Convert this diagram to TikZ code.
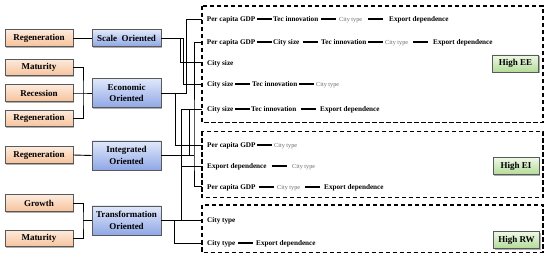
\documentclass[tikz,border=0pt]{standalone}
\usepackage{fontspec}
\setmainfont{Liberation Serif}
\usetikzlibrary{shadows,calc}
\definecolor{peachtop}{HTML}{FDEBDD}
\definecolor{peachbot}{HTML}{F7C29B}
\definecolor{bluetop}{HTML}{E0E8FA}
\definecolor{bluebot}{HTML}{8FA7E6}
\definecolor{greentop}{HTML}{EEF8E6}
\definecolor{greenbot}{HTML}{B3DB98}
\begin{document}
\begin{tikzpicture}[x=1pt,y=-1pt,
  conn/.style={draw=black,line width=0.9pt},
  dashseg/.style={draw=black,line width=2pt},
  dbox/.style={draw=black,line width=1.2pt,dash pattern=on 4.5pt off 2.5pt},
  shad/.style={drop shadow={shadow xshift=1.3pt,shadow yshift=-1.3pt,fill=black!45,opacity=0.7}},
  leftbox/.style={shad,draw=black!65,line width=0.6pt,top color=peachtop,bottom color=peachbot,
    minimum width=68pt,minimum height=16.5pt,inner sep=0pt,font=\fontsize{9}{11}\selectfont\bfseries},
  typebox/.style={shad,draw=black!65,line width=0.6pt,top color=bluetop,bottom color=bluebot,
    minimum width=69pt,inner sep=0pt,align=center,font=\fontsize{9}{11.5}\selectfont\bfseries},
  hibox/.style={shad,draw=black!65,line width=0.6pt,top color=greentop,bottom color=greenbot,
    minimum width=46pt,minimum height=17pt,inner sep=0pt,font=\fontsize{9}{11}\selectfont\bfseries},
  rt/.style={anchor=base west,inner sep=0pt,font=\fontsize{7.2}{8}\selectfont\bfseries},
  ct/.style={anchor=base west,inner sep=0pt,text=black!60,font=\fontsize{6.2}{7}\selectfont},
]
\useasboundingbox (0,0) rectangle (550,262);
\newcommand\dashbtw[2]{\draw[dashseg] ($(#1.base east)!0.5!(#2.base west)+(-7.5,-2.4)$) -- ($(#1.base east)!0.5!(#2.base west)+(7.5,-2.4)$);}

% dashed group frames
\draw[dbox] (202,6) rectangle (543,122.7);
\draw[dbox] (202,131.5) rectangle (543,197.7);
\draw[dbox] (202,205) rectangle (543,252.5);

% left boxes
\node[leftbox] (regA) at (39,38) {Regeneration};
\node[leftbox] (matA) at (39,67.5) {Maturity};
\node[leftbox] (rec) at (39,93) {Recession};
\node[leftbox] (regB) at (39,118.5) {Regeneration};
\node[leftbox] (regC) at (39,155) {Regeneration};
\node[leftbox] (gro) at (39,203) {Growth};
\node[leftbox] (matB) at (39,238.5) {Maturity};

% type boxes
\node[typebox,minimum height=16.5pt] (scale) at (126.5,38) {Scale~ Oriented};
\node[typebox,minimum height=29pt] (econ) at (126.5,93) {Economic\\Oriented};
\node[typebox,minimum height=29pt] (integ) at (126.5,155.5) {Integrated\\Oriented};
\node[typebox,minimum height=29pt] (trans) at (126.5,220.5) {Transformation\\Oriented};

% high boxes
\node[hibox] (hee) at (515.5,63.5) {High EE};
\node[hibox] (hei) at (516,166) {High EI};
\node[hibox] (hrw) at (516.5,240) {High RW};

% row entry coordinates
\coordinate (r1) at (202,19);
\coordinate (r2) at (202,42.3);
\coordinate (r3) at (202,62.7);
\coordinate (r4) at (202,84.5);
\coordinate (r5) at (202,109);
\coordinate (r6) at (202,145);
\coordinate (r7) at (202,166.3);
\coordinate (r8) at (202,186.7);
\coordinate (r9) at (202,220.5);
\coordinate (r10) at (202,243.3);

% row 1
\node[rt] (a1) at (206.7,21.4) {Per capita GDP};
\node[rt] (a2) at (273,21.4) {Tec innovation};
\node[ct] (a3) at (339,21.4) {City type};
\node[rt] (a4) at (389,21.4) {Export dependence};
\dashbtw{a1}{a2}\dashbtw{a2}{a3}\dashbtw{a3}{a4}
% row 2
\node[rt] (b1) at (206.7,44.7) {Per capita GDP};
\node[rt] (b2) at (273,44.7) {City size};
\node[rt] (b3) at (321,44.7) {Tec innovation};
\node[ct] (b4) at (385,44.7) {City type};
\node[rt] (b5) at (433,44.7) {Export dependence};
\dashbtw{b1}{b2}\dashbtw{b2}{b3}\dashbtw{b3}{b4}\dashbtw{b4}{b5}
% row 3
\node[rt] (c1) at (207,65.1) {City size};
% row 4
\node[rt] (d1) at (207,86.9) {City size};
\node[rt] (d2) at (252,86.9) {Tec innovation};
\node[ct] (d3) at (316,86.9) {City type};
\dashbtw{d1}{d2}\dashbtw{d2}{d3}
% row 5
\node[rt] (e1) at (207,111.4) {City size};
\node[rt] (e2) at (251,111.4) {Tec innovation};
\node[rt] (e3) at (320,111.4) {Export dependence};
\dashbtw{e1}{e2}\dashbtw{e2}{e3}
% row 6
\node[rt] (f1) at (207,147.4) {Per capita GDP};
\node[ct] (f2) at (274,147.4) {City type};
\dashbtw{f1}{f2}
% row 7
\node[rt] (g1) at (207,168.7) {Export dependence};
\node[ct] (g2) at (292,168.7) {City type};
\dashbtw{g1}{g2}
% row 8
\node[rt] (h1) at (207,189.1) {Per capita GDP};
\node[ct] (h2) at (277,189.1) {City type};
\node[rt] (h3) at (324,189.1) {Export dependence};
\dashbtw{h1}{h2}\dashbtw{h2}{h3}
% row 9
\node[rt] (i1) at (207,222.9) {City type};
% row 10
\node[rt] (j1) at (207,245.7) {City type};
\node[rt] (j2) at (256,245.7) {Export dependence};
\dashbtw{j1}{j2}

% left brackets
\coordinate (bjA) at (83,93);
\coordinate (bjB) at (83,220.5);
\draw[conn] (regA.east) -- (scale.west);
\draw[conn] (matA.east) -| (bjA) |- (regB.east);
\draw[conn] (rec.east) -- (bjA) -- (econ.west);
\draw[conn] (regC.east) -- (integ.west);
\draw[conn] (gro.east) -| (bjB) |- (matB.east);
\draw[conn] (bjB) -- (trans.west);

% junctions to the right
\coordinate (sA) at (180,38);
\coordinate (sB) at (183,38);
\coordinate (eA) at (186,93);
\coordinate (eB) at (175,93);
\coordinate (iA) at (194,155.5);
\coordinate (iB) at (189,155.5);
\coordinate (tA) at (174.5,220.5);
\coordinate (tB) at (181.5,220.5);

\draw[conn] (scale.east) -- (sB) |- (r4);
\draw[conn] (sA) |- (r3);
\draw[conn] (econ.east) -- (eA) |- (r1);
\draw[conn] (eB) |- (r6);
\draw[conn] (integ.east) -- (iA);
\draw[conn] (r2) -| (iA) |- (r8);
\draw[conn] (iB) |- (r5);
\draw[conn] (trans.east) -- (r9);
\draw[conn] (tA) |- (r10);
\draw[conn] (tB) |- (r5);
\draw[conn] (tB) |- (r7);
\end{tikzpicture}
\end{document}
